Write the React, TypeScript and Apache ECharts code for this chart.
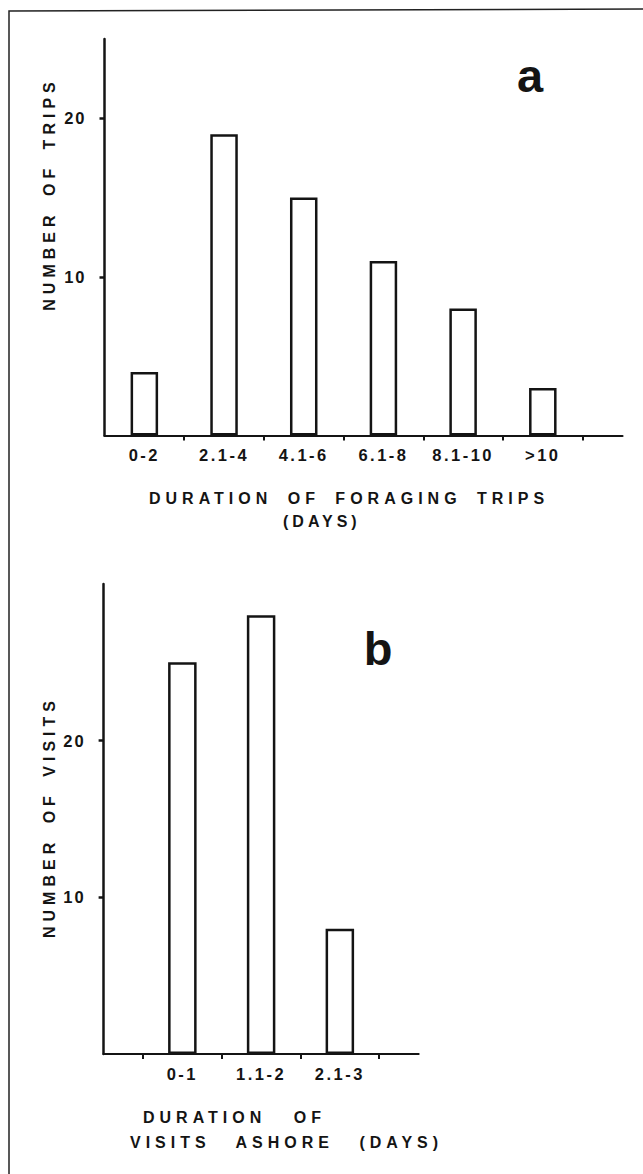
import React, { useEffect, useRef } from "react";
import * as echarts from "echarts";

// ---- data ----
const tripCategories = ["0-2", "2.1-4", "4.1-6", "6.1-8", "8.1-10", ">10"];
const tripCounts = [4, 19, 15, 11, 8, 3];
const tripYTicks = [10, 20];

const visitCategories = ["0-1", "1.1-2", "2.1-3"];
const visitCounts = [25, 28, 8];
const visitYTicks = [10, 20];

const FONT = '"Liberation Sans", Arial, Helvetica, sans-serif';
const INK = "#141414";

// letter / word spacing for texts (applied to svg text after render)
const TITLE_SPACING: Record<string, [number, number]> = {
  "DURATION OF FORAGING TRIPS": [5, 6],
  "(DAYS)": [4, 0],
  "DURATION OF": [5, 18],
  "VISITS ASHORE (DAYS)": [5, 16],
  "NUMBER OF TRIPS": [5, 5],
  "NUMBER OF VISITS": [5, 5],
};

export default function App() {
  const ref = useRef<HTMLDivElement | null>(null);

  useEffect(() => {
    const el = ref.current;
    if (!el) return;
    const chart = echarts.init(el, undefined, { renderer: "svg" });

    const tripBars = tripCounts.map((v, i) => [i + 0.5, v]);
    const tripTickValues = tripCategories.map((_, i) => i + 1);
    const tripLabelValues = tripCategories.map((_, i) => i + 0.5);

    const visitBars = visitCounts.map((v, i) => [i + 1, v]);
    const visitTickValues = [0, ...visitCategories].map((_, i) => i + 0.5);
    const visitLabelValues = visitCategories.map((_, i) => i + 1);

    const labelStyle = {
      fontSize: 16.5,
      fontWeight: "bold" as const,
      color: INK,
      fontFamily: FONT,
    };

    const xAxisCommon = (gridIndex: number, max: number, ticks: number[], labels: number[], fmt: (v: number) => string, width: number) => ({
      gridIndex,
      type: "value" as const,
      min: 0,
      max,
      axisLine: { show: true, onZero: true, lineStyle: { color: INK, width } },
      axisTick: { show: true, inside: false, length: 5, lineStyle: { color: INK, width: 2 }, customValues: ticks },
      axisLabel: { show: true, customValues: labels, formatter: fmt, margin: 11, ...labelStyle },
      splitLine: { show: false },
    });

    const yAxisCommon = (gridIndex: number, max: number, ticks: number[]) => ({
      gridIndex,
      type: "value" as const,
      min: 0,
      max,
      axisLine: { show: true, lineStyle: { color: INK, width: 2.5 } },
      axisTick: { show: true, inside: false, length: 5, lineStyle: { color: INK, width: 2.5 }, customValues: ticks },
      axisLabel: { show: true, customValues: ticks, margin: 18, ...labelStyle },
      splitLine: { show: false },
    });

    const barStyle = { color: "#ffffff", borderColor: INK, borderWidth: 2.5 };

    const txt = (text: string, x: number, y: number, size: number, align: string, rotation = 0) => ({
      type: "text",
      x,
      y,
      rotation,
      silent: true,
      style: {
        text,
        fill: INK,
        fontSize: size,
        fontWeight: "bold",
        fontFamily: FONT,
        align,
        textAlign: align,
        verticalAlign: "middle",
        textVerticalAlign: "middle",
      },
    });

    chart.setOption({
      animation: false,
      backgroundColor: "#ffffff",
      grid: [
        { left: 104.5, top: 39, width: 518, height: 396.5 },
        { left: 103.6, top: 584, width: 315, height: 470 },
      ],
      xAxis: [
        xAxisCommon(0, 6.5, tripTickValues, tripLabelValues, (v: number) => tripCategories[Math.floor(v)] ?? "", 2.2),
        xAxisCommon(1, 4, visitTickValues, visitLabelValues, (v: number) => visitCategories[Math.round(v) - 1] ?? "", 2.2),
      ],
      yAxis: [yAxisCommon(0, 25, tripYTicks), yAxisCommon(1, 30, visitYTicks)],
      series: [
        {
          type: "bar",
          xAxisIndex: 0,
          yAxisIndex: 0,
          data: tripBars,
          barWidth: 27.5,
          itemStyle: barStyle,
          silent: true,
        },
        {
          type: "bar",
          xAxisIndex: 1,
          yAxisIndex: 1,
          data: visitBars,
          barWidth: 28.5,
          itemStyle: barStyle,
          silent: true,
        },
      ],
      graphic: [
        {
          type: "polyline",
          silent: true,
          shape: { points: [[9, 1174], [9, 11], [643, 9]] },
          style: { stroke: "#222", lineWidth: 1.5, fill: "none" },
        },
        txt("a", 530, 75.7, 47, "center"),
        txt("b", 378, 648.7, 47, "center"),
        txt("NUMBER OF TRIPS", 49, 194, 16, "center", Math.PI / 2),
        txt("NUMBER OF VISITS", 49, 817, 16, "center", Math.PI / 2),
        txt("DURATION OF FORAGING TRIPS", 149, 498, 16, "left"),
        txt("(DAYS)", 283, 521, 16, "left"),
        txt("DURATION OF", 143, 1117, 16, "left"),
        txt("VISITS ASHORE (DAYS)", 130, 1142, 16, "left"),
      ],
    });

    const applySpacing = () => {
      const texts = el.querySelectorAll("text");
      texts.forEach((t) => {
        const s = (t.textContent || "").trim();
        let ls = 0;
        let ws = 0;
        if (TITLE_SPACING[s]) {
          [ls, ws] = TITLE_SPACING[s];
        } else if (tripCategories.includes(s) || visitCategories.includes(s)) {
          ls = 2.5;
        } else if (/^\d+$/.test(s)) {
          ls = 2;
        }
        (t as SVGTextElement).style.letterSpacing = ls + "px";
        (t as SVGTextElement).style.wordSpacing = ws + "px";
      });
    };
    applySpacing();
    chart.on("finished", applySpacing);
    const raf = requestAnimationFrame(applySpacing);

    return () => {
      cancelAnimationFrame(raf);
      chart.dispose();
    };
  }, []);

  return (
    <div
      ref={ref}
      style={{ position: "absolute", left: 0, top: 0, width: 643, height: 1174, background: "#fff" }}
    />
  );
}
